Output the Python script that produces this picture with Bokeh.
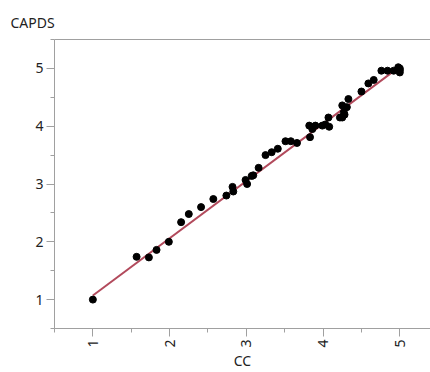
from bokeh.plotting import figure
from bokeh.models import LinearAxis, FixedTicker, Range1d
from bokeh.embed import file_html
from bokeh.resources import INLINE

cc = [1.00, 1.57, 1.73, 1.83, 1.99, 2.15, 2.25, 2.41, 2.57, 2.74, 2.82, 2.83,
      2.99, 3.01, 3.07, 3.09, 3.16, 3.25, 3.33, 3.41, 3.51, 3.58, 3.66,
      3.82, 3.83, 3.86, 3.90, 3.99, 4.03, 4.07, 4.08, 4.22, 4.25, 4.25, 4.27,
      4.28, 4.31, 4.33, 4.50, 4.59, 4.66, 4.76, 4.84, 4.92, 4.98, 5.00, 5.00, 5.00]
capds = [1.00, 1.74, 1.73, 1.86, 2.00, 2.34, 2.48, 2.60, 2.74, 2.80, 2.95, 2.87,
         3.07, 3.00, 3.14, 3.15, 3.28, 3.50, 3.55, 3.61, 3.74, 3.74, 3.71,
         4.01, 3.81, 3.95, 4.01, 4.01, 4.03, 4.15, 3.99, 4.15, 4.36, 4.15, 4.24,
         4.20, 4.33, 4.47, 4.60, 4.74, 4.80, 4.96, 4.96, 4.96, 5.02, 5.00, 4.93, 4.97]
fit_intercept = 0.08
fit_slope = 0.99
fit_x = [1.0, 5.0]

FONT = "Noto Sans"
AXIS_COLOR = "#a0a0a0"
TEXT_COLOR = "#222222"

p = figure(width=430, height=372, output_backend="svg", toolbar_location=None,
           x_range=Range1d(0.5, 5.4), y_range=Range1d(0.5, 5.5),
           min_border_left=54, min_border_right=0, min_border_top=39,
           min_border_bottom=42)
p.outline_line_color = None
p.grid.visible = False
p.background_fill_color = "white"
p.border_fill_color = "white"

p.title.text = "CAPDS"
p.title.align = "left"
p.title.offset = -44
p.title.text_font = FONT
p.title.text_font_size = "14px"
p.title.text_font_style = "normal"
p.title.text_color = TEXT_COLOR
p.title.standoff = 16

for ax in (p.xaxis[0], p.yaxis[0]):
    ax.axis_line_color = AXIS_COLOR
    ax.major_tick_line_color = AXIS_COLOR
    ax.minor_tick_line_color = AXIS_COLOR
    ax.major_tick_in = 0
    ax.minor_tick_in = 0
    ax.major_tick_out = 8
    ax.minor_tick_out = 4
    ax.major_label_text_font = FONT
    ax.major_label_text_font_size = "14px"
    ax.major_label_text_color = TEXT_COLOR
    ax.major_label_standoff = 3
    ax.ticker.num_minor_ticks = 2

p.xaxis[0].ticker.desired_num_ticks = 5
p.yaxis[0].ticker.desired_num_ticks = 5
p.xaxis[0].major_label_orientation = 1.5708
p.xaxis[0].axis_label = "CC"
p.xaxis[0].axis_label_text_font = FONT
p.xaxis[0].axis_label_text_font_size = "14px"
p.xaxis[0].axis_label_text_font_style = "normal"
p.xaxis[0].axis_label_text_color = TEXT_COLOR
p.xaxis[0].axis_label_standoff = 0

top = LinearAxis(ticker=FixedTicker(ticks=[]), major_tick_out=0, minor_tick_out=0,
                 major_tick_in=0, minor_tick_in=0, major_label_text_font_size="0px",
                 axis_line_color=AXIS_COLOR)
p.add_layout(top, "above")

fit_y = [fit_intercept + fit_slope * x for x in fit_x]
p.line(fit_x, fit_y, line_color="#b24a5c", line_width=2)
p.scatter(cc, capds, size=7, color="black")

open("out.html", "w").write(file_html(p, INLINE))
